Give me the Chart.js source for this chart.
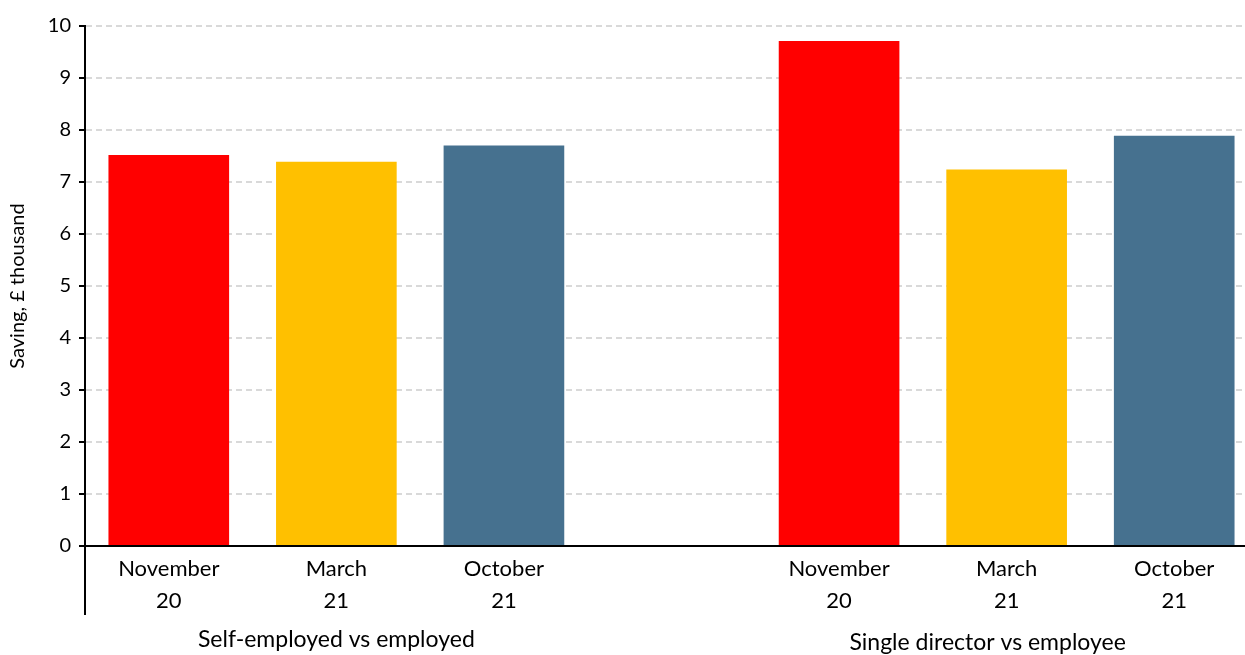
<!DOCTYPE html>
<html>
<head>
<meta charset="utf-8">
<script src="https://cdn.jsdelivr.net/npm/chart.js@4/dist/chart.umd.min.js"></script>
<style>
html,body{margin:0;padding:0;background:#fff;overflow:hidden;}
#wrap{width:1258px;height:655px;position:relative;}
</style>
</head>
<body>
<div id="wrap"><canvas id="c"></canvas></div>
<script>
const categories = [['November','20'],['March','21'],['October','21'],'',['November','20'],['March','21'],['October','21']];
const values = [7.52, 7.39, 7.70, null, 9.71, 7.24, 7.89];
const barColors = ['#FF0000','#FFC000','#46718F','#FFFFFF','#FF0000','#FFC000','#46718F'];
const groups = [
  {label: 'Self-employed vs employed', from: 0, to: 2},
  {label: 'Single director vs employee', from: 4, to: 6}
];
const yTitle = 'Saving, £ thousand';
const FONT = 'Lato, "Open Sans", sans-serif';

const groupPlugin = {
  id: 'groups',
  afterDraw(chart) {
    const ctx = chart.ctx;
    const x = chart.scales.x, y = chart.scales.y;
    const base = y.getPixelForValue(0);
    ctx.save();
    ctx.strokeStyle = '#000';
    ctx.lineWidth = 2;
    ctx.beginPath();
    ctx.moveTo(x.left, base);
    ctx.lineTo(x.left, base + 69);
    ctx.stroke();
    ctx.fillStyle = '#000';
    ctx.font = '23px ' + FONT;
    ctx.textAlign = 'center';
    ctx.textBaseline = 'middle';
    groups.forEach((g, i) => {
      const cx = (x.getPixelForValue(g.from) + x.getPixelForValue(g.to)) / 2 - (i === 1 ? 19 : 0);
      ctx.fillText(g.label, cx, base + 94 + i * 3);
    });
    ctx.restore();
  }
};

new Chart(document.getElementById('c'), {
  type: 'bar',
  data: {
    labels: categories,
    datasets: [{
      data: values,
      backgroundColor: barColors,
      borderWidth: 0,
      barPercentage: 0.72,
      categoryPercentage: 1.0
    }]
  },
  options: {
    responsive: true,
    maintainAspectRatio: false,
    animation: false,
    layout: {padding: {top: 26, left: 6, right: 0, bottom: 0}},
    plugins: {legend: {display: false}, tooltip: {enabled: false}},
    scales: {
      x: {
        grid: {display: false, drawTicks: false},
        border: {display: true, color: '#000', width: 2},
        ticks: {
          color: '#000',
          font: {family: FONT, size: 22, lineHeight: 1.45},
          padding: 7,
          maxRotation: 0,
          autoSkip: false
        },
        afterFit(scale) { scale.height = 109; }
      },
      y: {
        min: 0, max: 10,
        ticks: {
          stepSize: 1,
          color: '#000',
          font: {family: FONT, size: 20},
          padding: 8
        },
        grid: {
          color: '#D9D9D9',
          lineWidth: 2,
          tickColor: '#000',
          tickLength: 6,
          tickWidth: 2,
          tickBorderDash: []
        },
        border: {display: true, color: '#000', width: 2, dash: [6, 4]},
        title: {
          display: true,
          text: yTitle,
          color: '#000',
          font: {family: FONT, size: 20},
          padding: {top: 0, bottom: 6}
        },
        afterFit(scale) { scale.width = 79; }
      }
    }
  },
  plugins: [groupPlugin]
});
</script>
</body>
</html>
